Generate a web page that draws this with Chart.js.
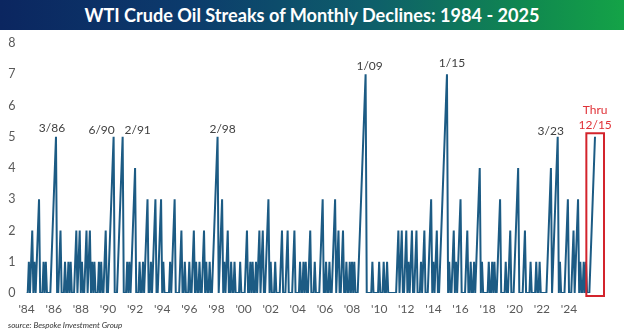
<!DOCTYPE html>
<html><head><meta charset="utf-8">
<script src="https://cdn.jsdelivr.net/npm/chart.js@4.4.1/dist/chart.umd.min.js"></script>
<style>
html,body{margin:0;padding:0;background:#fff;}
#wrap{position:relative;width:624px;height:334px;overflow:hidden;background:#fff;}
#banner{position:absolute;left:0;top:0;width:624px;height:30px;background:linear-gradient(90deg,#0b2660 0%,#0c3b6c 30%,#0e5f6a 60%,#10894f 85%,#14a347 100%);color:#fff;font-family:Lato,sans-serif;font-weight:bold;font-size:18px;text-align:center;line-height:30px;white-space:nowrap;}
#src{position:absolute;left:8px;top:320px;font-family:Lato,sans-serif;font-style:italic;font-size:8px;color:#333;}
canvas{position:absolute;left:0;top:0;}
</style></head>
<body><div id="wrap"><canvas id="c" width="624" height="334"></canvas><div id="banner">WTI Crude Oil Streaks of Monthly Declines: 1984 - 2025</div><div id="src">source: Bespoke Investment Group</div></div>
<script>
// ---------- DATA ----------
const firstYear = 1984;
const lastYear = 2025;
// consecutive monthly declines ending in each month (Jan..Dec per row)
const monthlyStreak = [
  0,0,1,0,1,2,0,1,0,1,2,3, // 1984
  0,0,0,1,0,1,0,0,0,0,1,2, // 1985
  3,4,5,0,0,1,2,0,0,0,1,0, // 1986
  0,1,0,1,0,0,0,1,2,0,1,2, // 1987
  0,1,0,0,1,2,0,1,2,0,1,0, // 1988
  1,0,0,0,1,0,1,0,0,1,2,0, // 1989
  0,1,2,3,4,5,0,0,0,1,2,3, // 1990
  4,5,0,0,0,1,0,1,0,1,2,3, // 1991
  4,0,0,0,1,0,0,1,0,1,2,3, // 1992
  0,0,1,0,1,2,3,0,0,1,2,3, // 1993
  0,1,0,0,0,0,0,1,0,1,2,3, // 1994
  0,0,0,0,1,2,0,0,1,0,0,0, // 1995
  1,0,0,1,2,0,1,0,0,1,0,0, // 1996
  1,2,0,1,0,0,1,0,0,1,2,3, // 1997
  4,5,0,1,2,3,0,1,0,1,2,0, // 1998
  0,1,0,0,1,0,0,0,0,1,0,0, // 1999
  0,0,1,2,0,0,1,0,1,0,0,1, // 2000
  0,1,2,0,1,2,0,0,1,2,3,0, // 2001
  1,0,0,0,1,0,0,0,0,1,2,0, // 2002
  0,0,1,2,0,0,0,0,1,2,0,0, // 2003
  0,0,1,0,0,1,0,1,0,0,1,2, // 2004
  0,0,0,1,0,0,0,0,1,2,3,0, // 2005
  0,1,0,0,1,0,0,1,2,3,0,1, // 2006
  2,0,0,1,2,0,0,1,0,0,1,0, // 2007
  1,0,1,0,0,0,1,2,3,4,5,6, // 2008
  7,0,0,0,0,0,1,0,0,0,0,0, // 2009
  1,0,0,0,1,0,0,1,0,0,0,0, // 2010
  0,0,0,0,1,2,0,1,2,0,0,1, // 2011
  2,0,1,0,1,2,0,0,1,2,0,0, // 2012
  0,1,0,1,2,0,0,0,1,2,3,0, // 2013
  1,0,1,2,0,0,1,2,3,4,5,6, // 2014
  7,0,1,0,0,1,2,0,1,0,1,2, // 2015
  3,0,0,0,0,1,2,0,0,1,0,0, // 2016
  1,0,1,2,3,4,0,1,0,0,0,0, // 2017
  0,1,0,0,1,0,1,0,0,1,2,3, // 2018
  0,0,0,0,1,0,0,1,2,0,0,0, // 2019
  1,2,3,4,0,0,0,0,1,2,0,0, // 2020
  0,0,1,0,0,0,0,1,0,0,1,0, // 2021
  0,0,0,0,0,1,2,3,4,0,1,2, // 2022
  3,4,5,0,1,0,0,0,0,1,2,3, // 2023
  0,0,0,1,2,0,1,2,3,0,1,0, // 2024
  0,1,0,1,0,0,0,1,2,3,4,5  // 2025
];
const tickLabels = ["'84","'86","'88","'90","'92","'94","'96","'98","'00","'02","'04","'06","'08","'10","'12","'14","'16","'18","'20","'22","'24"];
const yTicks = [0,1,2,3,4,5,6,7,8];
const peakLabels = ['3/86','6/90','2/91','2/98','1/09','1/15','3/23'];
const peakMonths = ['1986-03','1990-06','1991-02','1998-02','2009-01','2015-01','2023-03'];
const currentStreakMonths = ['2025-07','2025-12'];
const currentStreakNote = ['Thru','12/15'];

// ---------- build categories ----------
const categories = [];
for (let yr = firstYear; yr <= lastYear; yr++) {
  for (let mo = 1; mo <= 12; mo++) categories.push(yr + '-' + String(mo).padStart(2,'0'));
}

// ---------- styles ----------
const peakLabelOffsets = [[-4,-9],[-12,-7],[15,-7],[5,-8],[4,-8],[5,-11],[-7,-6]];
const lineColor = '#1c5b84';
const redColor = '#d3242c';

const annotPlugin = {
  id: 'annot',
  afterDatasetsDraw(chart) {
    const {ctx, scales: {x, y}} = chart;
    ctx.save();
    ctx.font = '12px Lato, sans-serif';
    ctx.fillStyle = '#404040';
    ctx.textAlign = 'center';
    ctx.textBaseline = 'middle';
    peakMonths.forEach((mo, i) => {
      const idx = categories.indexOf(mo);
      const px = x.getPixelForValue(idx);
      const py = y.getPixelForValue(monthlyStreak[idx]);
      ctx.fillText(peakLabels[i], px + peakLabelOffsets[i][0], py + peakLabelOffsets[i][1]);
    });
    const i0 = categories.indexOf(currentStreakMonths[0]);
    const i1 = categories.indexOf(currentStreakMonths[1]);
    const left = x.getPixelForValue(i0) - 3;
    const right = x.getPixelForValue(i1) + 9;
    const top = y.getPixelForValue(monthlyStreak[i1]) - 3.5;
    const bottom = y.getPixelForValue(0) + 3;
    ctx.strokeStyle = redColor;
    ctx.lineWidth = 2;
    ctx.strokeRect(left, top, right - left, bottom - top);
    ctx.fillStyle = '#e03238';
    const cx = (left + right) / 2;
    ctx.fillText(currentStreakNote[0], cx, top - 23);
    ctx.fillText(currentStreakNote[1], cx, top - 8);
    ctx.restore();
  }
};

function draw() {
  // fit title width
  const b = document.getElementById('banner');
  const mc = document.createElement('canvas').getContext('2d');
  mc.font = 'bold 18px Lato';
  const w = mc.measureText(b.textContent).width;
  b.style.fontSize = (18 * 456 / w).toFixed(2) + 'px';

  new Chart(document.getElementById('c'), {
    type: 'line',
    data: {
      labels: categories,
      datasets: [{
        data: monthlyStreak,
        borderColor: lineColor,
        borderWidth: 2,
        pointRadius: 0,
        tension: 0,
        fill: false
      }]
    },
    options: {
      responsive: false,
      animation: false,
      devicePixelRatio: 1,
      layout: { padding: { left: 0, right: 29, top: 43, bottom: 0 } },
      plugins: { legend: { display: false }, tooltip: { enabled: false }, title: { display: false } },
      scales: {
        x: {
          type: 'category',
          offset: false,
          grid: { display: false, drawTicks: false },
          border: { display: false },
          afterFit(s) { s.height = 41; },
          ticks: {
            autoSkip: false,
            maxRotation: 0,
            minRotation: 0,
            padding: 9,
            color: '#595959',
            font: { family: 'Lato', size: 12 },
            callback(v, i) { return i % 24 === 0 ? tickLabels[i / 24] : ''; }
          }
        },
        y: {
          min: 0, max: 8,
          grid: { display: false, drawTicks: false },
          border: { display: false },
          afterFit(s) { s.width = 26.6; },
          afterBuildTicks(s) { s.ticks = yTicks.map(v => ({ value: v })); },
          ticks: {
            padding: 11,
            color: '#595959',
            font: { family: 'Lato', size: 12.5 }
          }
        }
      }
    },
    plugins: [annotPlugin]
  });
}
if (document.fonts && document.fonts.load) {
  Promise.all([document.fonts.load('12px Lato'), document.fonts.load('bold 18px Lato'), document.fonts.load('italic 8px Lato')]).then(draw, draw);
} else draw();
</script>
</body></html>
